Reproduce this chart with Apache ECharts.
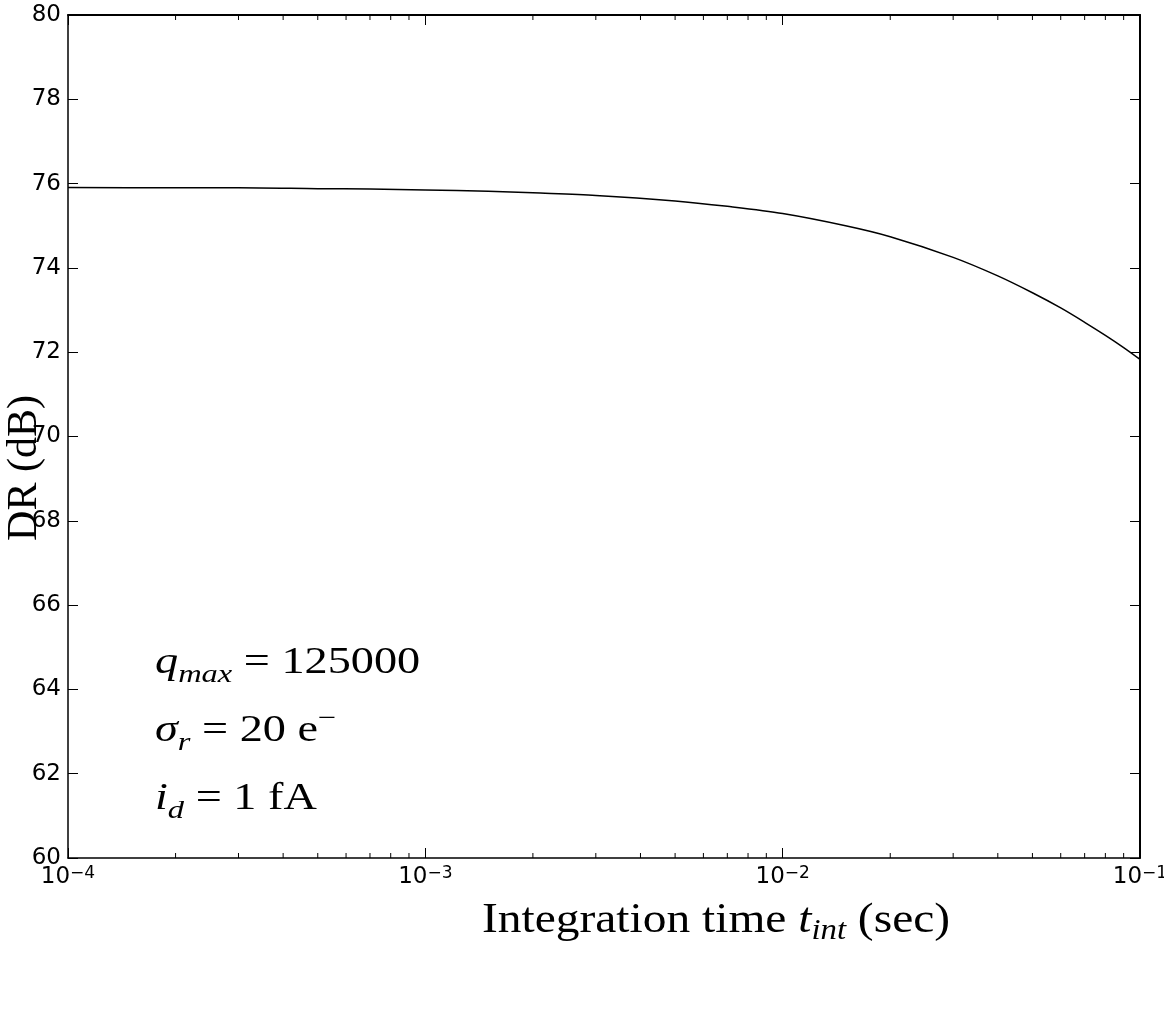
<!DOCTYPE html>
<html>
<head>
<meta charset="utf-8">
<script src="https://cdn.jsdelivr.net/npm/echarts@6/dist/echarts.min.js"></script>
<style>
  html, body { margin: 0; padding: 0; background: #fff; }
  #chart { width: 1164px; height: 1012px; }
</style>
</head>
<body>
<div id="chart"></div>
<script>
/* ---------------- DATA ---------------- */

// integration time (sec)
const T_INT = [
    1e-4, 2e-4, 3e-4, 5e-4, 7e-4,
    1e-3, 1.5e-3, 2e-3, 3e-3, 5e-3, 7e-3,
    1e-2, 1.5e-2, 2e-2, 3e-2, 4e-2, 5e-2, 6e-2, 7e-2, 8e-2, 9e-2, 1e-1,
];

// dynamic range (dB)
const DR = [
    75.91, 75.90, 75.90, 75.88, 75.87,
    75.85, 75.82, 75.78, 75.72, 75.59, 75.46,
    75.29, 75.00, 74.74, 74.25, 73.81, 73.41, 73.05, 72.71, 72.40, 72.11, 71.83,
];

const MINOR_X = [
    2e-4, 3e-4, 4e-4, 5e-4, 6e-4, 7e-4, 8e-4, 9e-4,
    2e-3, 3e-3, 4e-3, 5e-3, 6e-3, 7e-3, 8e-3, 9e-3,
    2e-2, 3e-2, 4e-2, 5e-2, 6e-2, 7e-2, 8e-2, 9e-2,
];

const NOTES = [
    "{it|q}{sub|max}{rm| = 125000}",
    "{it|σ}{sub|r}{rm| = 20 e}{sup|−}",
    "{it|i}{sub|d}{rm| = 1 fA}",
];

/* ---------------- CHART ---------------- */

const SERIF = "'Liberation Serif', 'DejaVu Serif', serif";
const SANS = "'DejaVu Sans', sans-serif";

const chart = echarts.init(document.getElementById("chart"));

const tickStyle = { show: true, inside: true, length: 10, lineStyle: { color: "#000", width: 1 } };

const option = {
    animation: false,
    backgroundColor: "#fff",
    grid: { left: 68, top: 15, right: 24, bottom: 154, containLabel: false, outerBoundsMode: "none" },
    xAxis: [
        {
            type: "log",
            logBase: 10,
            min: 1e-4,
            max: 1e-1,
            axisLine: { show: true, onZero: false, lineStyle: { color: "#000", width: 1.5 } },
            axisTick: tickStyle,
            splitLine: { show: false },
            axisLabel: {
                margin: 7,
                color: "#000",
                fontFamily: SANS,
                hideOverlap: false,
                formatter: (v) => "{b|10}{s|" + String(Math.round(Math.log10(v))).replace("-", "−") + "}",
                rich: {
                    b: { fontSize: 23, fontFamily: SANS, color: "#000", verticalAlign: "bottom", lineHeight: 24 },
                    s: { fontSize: 17, fontFamily: SANS, color: "#000", verticalAlign: "top", lineHeight: 18, padding: [0, 0, 14, 0] },
                },
            },
        },
        {
            type: "log",
            logBase: 10,
            min: 1e-4,
            max: 1e-1,
            position: "top",
            axisLine: { show: true, onZero: false, lineStyle: { color: "#000", width: 2 } },
            axisTick: tickStyle,
            axisLabel: { show: false },
            splitLine: { show: false },
        },
    ],
    yAxis: [
        {
            type: "value",
            min: 60,
            max: 80,
            interval: 2,
            axisLine: { show: true, onZero: false, lineStyle: { color: "#000", width: 1.5 } },
            axisTick: tickStyle,
            splitLine: { show: false },
            axisLabel: { margin: 7, color: "#000", fontSize: 23, fontFamily: SANS },
        },
        {
            type: "value",
            min: 60,
            max: 80,
            interval: 2,
            position: "right",
            axisLine: { show: true, onZero: false, lineStyle: { color: "#000", width: 2 } },
            axisTick: tickStyle,
            axisLabel: { show: false },
            splitLine: { show: false },
        },
    ],
    series: [
        {
            type: "line",
            xAxisIndex: 0,
            yAxisIndex: 0,
            data: T_INT.map((t, i) => [t, DR[i]]),
            smooth: 0.3,
            showSymbol: false,
            lineStyle: { color: "#000", width: 1.5 },
        },
    ],
};

chart.setOption(option);

/* minor ticks on log axes + text */
const yBottom = chart.convertToPixel({ yAxisIndex: 0 }, 60);
const yTop = chart.convertToPixel({ yAxisIndex: 0 }, 80);
const graphics = [];
MINOR_X.forEach((v) => {
    const x = chart.convertToPixel({ xAxisIndex: 0 }, v);
    graphics.push({ type: "line", shape: { x1: x, y1: yBottom, x2: x, y2: yBottom - 5 }, style: { stroke: "#000", lineWidth: 1 } });
    graphics.push({ type: "line", shape: { x1: x, y1: yTop, x2: x, y2: yTop + 5 }, style: { stroke: "#000", lineWidth: 1 } });
});

graphics.push({
    type: "text",
    x: 716, y: 921,
    scaleX: 1.13,
    style: {
        text: "{rm|Integration time }{it|t}{sub|int}{rm| (sec)}",
        align: "center", verticalAlign: "middle",
        rich: {
            rm: { fontSize: 42, fontFamily: SERIF, fill: "#000", verticalAlign: "middle", lineHeight: 50 },
            it: { fontSize: 42, fontFamily: SERIF, fontStyle: "italic", fill: "#000", verticalAlign: "middle", lineHeight: 50 },
            sub: { fontSize: 29, fontFamily: SERIF, fontStyle: "italic", fill: "#000", verticalAlign: "bottom", lineHeight: 50, padding: [12, 0, 0, 0] },
        },
    },
});

graphics.push({
    type: "text",
    x: 25, y: 468,
    rotation: Math.PI / 2,
    style: {
        text: "DR (dB)",
        align: "center", verticalAlign: "middle",
        fontSize: 42, fontFamily: SERIF, fill: "#000",
    },
});

const noteRich = {
    rm: { fontSize: 37, fontFamily: SERIF, fill: "#000", verticalAlign: "middle", lineHeight: 50 },
    it: { fontSize: 37, fontFamily: SERIF, fontStyle: "italic", fill: "#000", verticalAlign: "middle", lineHeight: 50 },
    sub: { fontSize: 26, fontFamily: SERIF, fontStyle: "italic", fill: "#000", verticalAlign: "bottom", lineHeight: 50, padding: [12, 0, 0, 0] },
    sup: { fontSize: 26, fontFamily: SERIF, fill: "#000", verticalAlign: "top", lineHeight: 50 },
};
NOTES.forEach((txt, i) => {
    graphics.push({
        type: "text",
        x: 155, y: 663 + i * 68,
        scaleX: 1.25,
        style: { text: txt, align: "left", verticalAlign: "middle", rich: noteRich },
    });
});

chart.setOption({ graphic: graphics });
</script>
</body>
</html>
